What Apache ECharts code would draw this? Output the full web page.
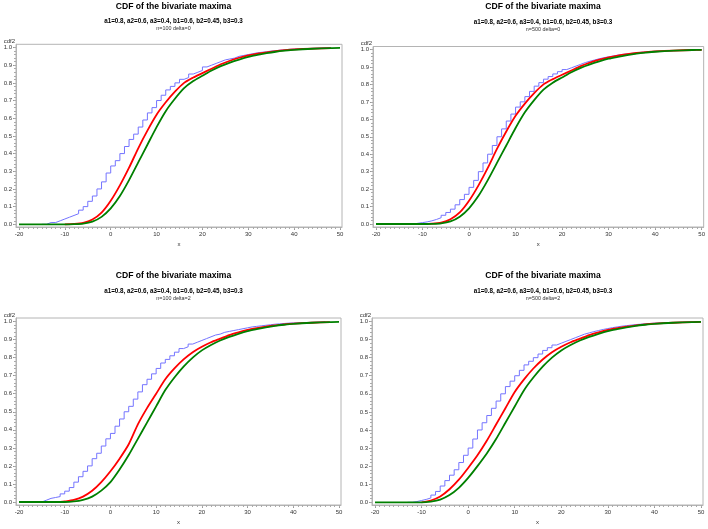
<!DOCTYPE html>
<html>
<head>
<meta charset="utf-8">
<script src="https://cdn.jsdelivr.net/npm/echarts@6/dist/echarts.min.js"></script>
<style>
html,body{margin:0;padding:0;background:#fff;}
#chart{width:708px;height:529px;}
</style>
</head>
<body>
<div id="chart"></div>
<script>
// ---------- tick labels ----------
const X_TICKS = [-20, -10, 0, 10, 20, 30, 40, 50];
const Y_TICKS = [0, 0.1, 0.2, 0.3, 0.4, 0.5, 0.6, 0.7, 0.8, 0.9, 1.0];

const TITLE = 'CDF of the bivariate maxima';
const SUBTITLE = 'a1=0.8, a2=0.6, a3=0.4, b1=0.6, b2=0.45, b3=0.3';
const PANEL_NOTES = ['n=100 delta=0', 'n=500 delta=0', 'n=100 delta=2', 'n=500 delta=2'];

// ---------- top-left: n=100 delta=0 ----------
const tlBlue = [[-15,0],[-14,0.01],[-13,0.01],[-12,0.02],[-11,0.03],[-10,0.04],[-9,0.05],[-8,0.06],[-7,0.08],[-6,0.10],[-5,0.13],[-4,0.16],[-3,0.20],[-2,0.24],[-1,0.29],[0,0.33],[1,0.36],[2,0.40],[3,0.44],[4,0.48],[5,0.51],[6,0.55],[7,0.59],[8,0.63],[9,0.66],[10,0.70],[11,0.73],[12,0.76],[13,0.78],[14,0.80],[15,0.82],[16,0.83],[17,0.85],[18,0.86],[19,0.87],[20,0.89],[21,0.90],[22,0.91],[23,0.92],[24,0.93],[25,0.935],[26,0.94],[27,0.95],[28,0.955],[29,0.96],[30,0.965],[31,0.97],[32,0.973],[33,0.976],[34,0.98],[35,0.982],[36,0.985],[37,0.987],[38,0.99],[39,0.991],[40,0.992],[41,0.993],[42,0.994],[43,0.995],[44,0.996],[45,0.997],[46,0.998],[47,0.999],[48,1.0]];
const tlRed = [[-10,0],[-8,0.002],[-6,0.008],[-4,0.027],[-2,0.066],[0,0.133],[2,0.22],[4,0.32],[6,0.43],[8,0.53],[10,0.62],[12,0.69],[14,0.75],[16,0.80],[18,0.83],[20,0.855],[22,0.88],[24,0.905],[26,0.925],[28,0.942],[30,0.955],[32,0.965],[34,0.973],[36,0.98],[38,0.985],[40,0.989],[44,0.994],[48,0.997]];
const tlGreen = [[-20,0],[-10,0],[-8,0.001],[-6,0.004],[-4,0.015],[-2,0.042],[0,0.09],[2,0.16],[4,0.25],[6,0.35],[8,0.45],[10,0.55],[12,0.64],[14,0.71],[16,0.77],[18,0.81],[20,0.84],[22,0.87],[24,0.895],[26,0.915],[28,0.932],[30,0.947],[32,0.958],[34,0.968],[36,0.976],[38,0.982],[40,0.987],[44,0.993],[48,0.997],[50,0.998]];

// ---------- top-right: n=500 delta=0 ----------
const trBlue = [[-13,0],[-12,0.004],[-11,0.008],[-10,0.012],[-9,0.018],[-8,0.026],[-7,0.036],[-6,0.05],[-5,0.066],[-4,0.085],[-3,0.11],[-2,0.14],[-1,0.17],[0,0.21],[1,0.25],[2,0.30],[3,0.35],[4,0.40],[5,0.45],[6,0.50],[7,0.545],[8,0.59],[9,0.63],[10,0.67],[11,0.70],[12,0.73],[13,0.76],[14,0.79],[15,0.81],[16,0.83],[17,0.845],[18,0.86],[19,0.873],[20,0.885],[21,0.895],[22,0.905],[23,0.915],[24,0.925],[25,0.933],[26,0.94],[27,0.947],[28,0.953],[29,0.958],[30,0.963],[31,0.968],[32,0.972],[33,0.975],[34,0.978],[35,0.981],[36,0.984],[37,0.986],[38,0.988],[39,0.99],[40,0.991],[42,0.993],[44,0.995],[46,0.997],[48,0.998],[50,0.999]];
const trRed = [[-10,0],[-8,0.002],[-6,0.008],[-4,0.027],[-2,0.066],[0,0.133],[2,0.22],[4,0.32],[6,0.43],[8,0.53],[10,0.62],[12,0.69],[14,0.75],[16,0.80],[18,0.83],[20,0.855],[22,0.88],[24,0.905],[26,0.925],[28,0.942],[30,0.955],[32,0.965],[34,0.973],[36,0.98],[38,0.985],[40,0.989],[44,0.994],[48,0.997],[50,0.998]];
const trGreen = [[-20,0],[-10,0],[-8,0.001],[-6,0.004],[-4,0.015],[-2,0.042],[0,0.09],[2,0.16],[4,0.25],[6,0.35],[8,0.45],[10,0.55],[12,0.64],[14,0.71],[16,0.77],[18,0.81],[20,0.84],[22,0.87],[24,0.895],[26,0.915],[28,0.932],[30,0.947],[32,0.958],[34,0.968],[36,0.976],[38,0.982],[40,0.987],[44,0.993],[48,0.997],[50,0.998]];

// ---------- bottom-left: n=100 delta=2 ----------
const blBlue = [[-16,0],[-15,0.01],[-14,0.02],[-13,0.025],[-12,0.03],[-11,0.045],[-10,0.06],[-9,0.08],[-8,0.11],[-7,0.14],[-6,0.17],[-5,0.20],[-4,0.24],[-3,0.27],[-2,0.31],[-1,0.35],[0,0.38],[1,0.42],[2,0.46],[3,0.50],[4,0.53],[5,0.57],[6,0.61],[7,0.65],[8,0.68],[9,0.71],[10,0.74],[11,0.77],[12,0.79],[13,0.81],[14,0.83],[15,0.85],[16,0.86],[17,0.875],[18,0.885],[19,0.895],[20,0.905],[21,0.915],[22,0.925],[23,0.93],[24,0.94],[25,0.945],[26,0.95],[27,0.955],[28,0.96],[29,0.965],[30,0.97],[31,0.973],[32,0.976],[33,0.979],[34,0.982],[35,0.985],[36,0.987],[37,0.989],[38,0.991],[39,0.992],[40,0.993],[42,0.995],[44,0.997],[46,0.999],[47,1.0]];
const blRed = [[-11,0],[-10,0.003],[-8,0.012],[-6,0.03],[-4,0.062],[-2,0.11],[0,0.17],[2,0.24],[4,0.32],[6,0.43],[8,0.52],[10,0.60],[12,0.68],[14,0.74],[16,0.79],[18,0.83],[20,0.86],[22,0.885],[24,0.905],[26,0.925],[28,0.94],[30,0.953],[32,0.963],[34,0.972],[36,0.978],[38,0.984],[40,0.988],[44,0.993],[48,0.997]];
const blGreen = [[-20,0],[-10,0],[-8,0.003],[-6,0.012],[-4,0.03],[-2,0.063],[0,0.11],[2,0.18],[4,0.26],[6,0.35],[8,0.44],[10,0.53],[12,0.62],[14,0.69],[16,0.75],[18,0.80],[20,0.84],[22,0.87],[24,0.895],[26,0.915],[28,0.932],[30,0.947],[32,0.958],[34,0.968],[36,0.976],[38,0.982],[40,0.987],[44,0.993],[48,0.997],[50,0.998]];

// ---------- bottom-right: n=500 delta=2 ----------
const brBlue = [[-13,0],[-12,0.004],[-11,0.01],[-10,0.016],[-9,0.024],[-8,0.04],[-7,0.06],[-6,0.09],[-5,0.12],[-4,0.15],[-3,0.18],[-2,0.22],[-1,0.26],[0,0.30],[1,0.35],[2,0.40],[3,0.44],[4,0.48],[5,0.52],[6,0.56],[7,0.60],[8,0.64],[9,0.67],[10,0.70],[11,0.73],[12,0.76],[13,0.78],[14,0.80],[15,0.82],[16,0.84],[17,0.855],[18,0.87],[19,0.88],[20,0.89],[21,0.90],[22,0.91],[23,0.92],[24,0.93],[25,0.937],[26,0.944],[27,0.95],[28,0.956],[29,0.961],[30,0.966],[31,0.97],[32,0.974],[33,0.977],[34,0.98],[35,0.983],[36,0.985],[37,0.987],[38,0.989],[39,0.991],[40,0.992],[42,0.994],[44,0.996],[46,0.998],[48,0.999],[50,1.0]];
const brRed = [[-10,0],[-8,0.01],[-6,0.032],[-4,0.072],[-2,0.125],[0,0.19],[2,0.26],[4,0.34],[6,0.43],[8,0.52],[10,0.61],[12,0.68],[14,0.74],[16,0.79],[18,0.83],[20,0.86],[22,0.885],[24,0.905],[26,0.925],[28,0.94],[30,0.953],[32,0.963],[34,0.972],[36,0.978],[38,0.984],[40,0.988],[44,0.993],[48,0.997],[50,0.998]];
const brGreen = [[-20,0],[-10,0],[-8,0.004],[-6,0.015],[-4,0.04],[-2,0.08],[0,0.135],[2,0.20],[4,0.27],[6,0.35],[8,0.44],[10,0.53],[12,0.62],[14,0.69],[16,0.75],[18,0.80],[20,0.84],[22,0.87],[24,0.895],[26,0.915],[28,0.932],[30,0.947],[32,0.958],[34,0.968],[36,0.976],[38,0.982],[40,0.987],[44,0.993],[48,0.997],[50,0.998]];

const PANEL_DATA = [
  [tlBlue, tlRed, tlGreen],
  [trBlue, trRed, trGreen],
  [blBlue, blRed, blGreen],
  [brBlue, brRed, brGreen]
];

// ---------- layout (pixels) ----------
// frame: [left, top, right, bottom]; px: [x(-20), x(50), y(0), y(1)]
const LAYOUT = [
  {frame: [16, 44.3, 342, 227], px: [19, 340, 224.3, 47.5], tx: 173.5, ty: [6.5, 21, 29]},
  {frame: [373, 46.5, 704, 227], px: [376, 702, 224, 49.5], tx: 543, ty: [6.7, 22.2, 30]},
  {frame: [16, 318, 341, 505], px: [19, 339, 502, 321.5], tx: 173.5, ty: [275.7, 290.8, 298.6]},
  {frame: [372, 318, 703, 505], px: [375, 701, 502.3, 321.5], tx: 543, ty: [275.7, 290.8, 298.6]}
];

const FONT = '"Liberation Sans", Arial, Helvetica, sans-serif';
const FRAME_COLOR = '#b4b4b4';
const LABEL_COLOR = '#333333';
const COLORS = ['#7474ff', '#ff0000', '#008000'];

const xMinor = [];
for (let v = -20; v <= 50; v++) xMinor.push(v);
const yMinor = [];
for (let k = 0; k <= 50; k++) yMinor.push(k / 50);

const grid = [], xAxis = [], yAxis = [], series = [], graphic = [];

LAYOUT.forEach((L, i) => {
  const [l, t, r, b] = L.frame;
  const [x0, x1, y0, y1] = L.px;
  const ux = (x1 - x0) / 70, uy = (y0 - y1) / 1;
  const xmin = -20 - (x0 - l) / ux, xmax = 50 + (r - x1) / ux;
  const ymin = 0 - (b - y0) / uy, ymax = 1 + (y1 - t) / uy;

  grid.push({left: l, top: t, width: r - l, height: b - t, show: true,
    borderColor: FRAME_COLOR, borderWidth: 1, backgroundColor: 'transparent'});

  xAxis.push({
    gridIndex: i, type: 'value', min: xmin, max: xmax, position: 'bottom',
    axisLine: {show: true, onZero: false, lineStyle: {color: FRAME_COLOR, width: 1}},
    axisTick: {show: true, length: 3, customValues: X_TICKS, lineStyle: {color: '#999'}},
    axisLabel: {show: true, customValues: X_TICKS, fontSize: 6, fontFamily: FONT, color: LABEL_COLOR, margin: 4,
      formatter: v => String(Math.round(v))},
    splitLine: {show: false},
    name: 'x', nameLocation: 'middle', nameGap: 14,
    nameTextStyle: {fontSize: 6, fontFamily: FONT, color: LABEL_COLOR}
  });
  xAxis.push({
    gridIndex: i, type: 'value', min: xmin, max: xmax, position: 'bottom',
    axisLine: {show: false, onZero: false},
    axisTick: {show: true, length: 2, customValues: xMinor, lineStyle: {color: '#aaa'}},
    axisLabel: {show: false},
    splitLine: {show: false}
  });
  yAxis.push({
    gridIndex: i, type: 'value', min: ymin, max: ymax, position: 'left',
    axisLine: {show: true, onZero: false, lineStyle: {color: FRAME_COLOR, width: 1}},
    axisTick: {show: true, length: 3, customValues: Y_TICKS, lineStyle: {color: '#999'}},
    axisLabel: {show: true, customValues: Y_TICKS, fontSize: 6, fontFamily: FONT, color: LABEL_COLOR, margin: 4,
      formatter: v => v.toFixed(1)},
    splitLine: {show: false},
    name: 'cdf2', nameLocation: 'end', nameGap: -1,
    nameTextStyle: {fontSize: 6, fontFamily: FONT, color: LABEL_COLOR, align: 'right', padding: [0, 1, 0, 0]}
  });
  yAxis.push({
    gridIndex: i, type: 'value', min: ymin, max: ymax, position: 'left',
    axisLine: {show: false, onZero: false},
    axisTick: {show: true, length: 2, customValues: yMinor, lineStyle: {color: '#aaa'}},
    axisLabel: {show: false},
    splitLine: {show: false}
  });

  PANEL_DATA[i].forEach((d, k) => {
    const s = {
      type: 'line', xAxisIndex: 2 * i, yAxisIndex: 2 * i, data: d,
      showSymbol: false, symbol: 'none', silent: true, z: 2 + k,
      lineStyle: {color: COLORS[k], width: k === 0 ? 1 : 1.8, join: 'round'},
      itemStyle: {color: COLORS[k]}
    };
    if (k === 0) s.step = 'end';
    else s.smooth = 0.25;
    series.push(s);
  });

  graphic.push(
    {type: 'text', x: L.tx, y: L.ty[0], style: {text: TITLE, font: 'bold 8.6px ' + FONT, fill: '#000', textAlign: 'center', textVerticalAlign: 'middle'}},
    {type: 'text', x: L.tx, y: L.ty[1], style: {text: SUBTITLE, font: 'bold 6.3px ' + FONT, fill: '#000', textAlign: 'center', textVerticalAlign: 'middle'}},
    {type: 'text', x: L.tx, y: L.ty[2], style: {text: PANEL_NOTES[i], font: '5.4px ' + FONT, fill: '#333', textAlign: 'center', textVerticalAlign: 'middle'}}
  );
});

const chart = echarts.init(document.getElementById('chart'), null, {renderer: 'canvas'});
chart.setOption({
  animation: false,
  backgroundColor: '#ffffff',
  grid, xAxis, yAxis, series, graphic
});
</script>
</body>
</html>
